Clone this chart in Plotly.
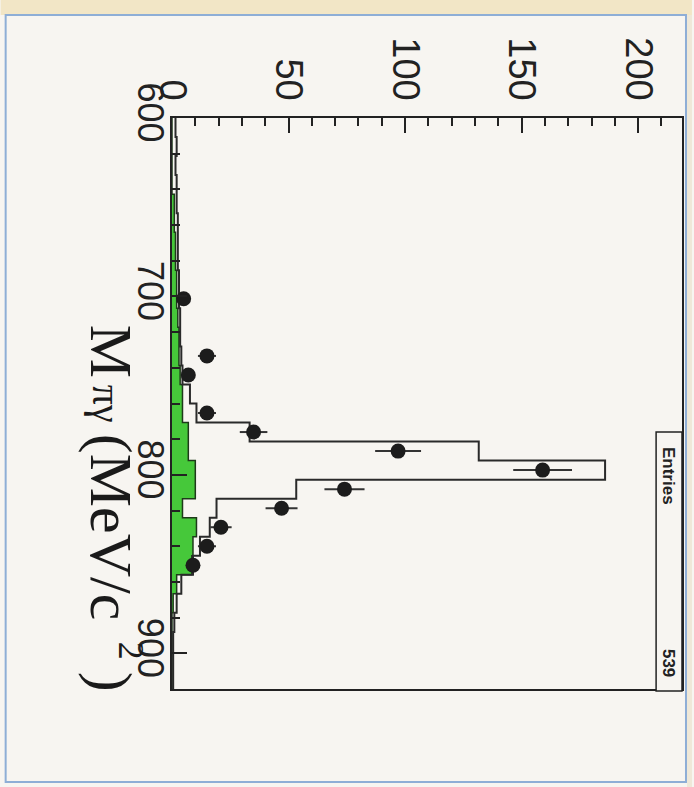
import numpy as np
import plotly.graph_objects as go

# ---- histogram binning (mass axis, MeV/c^2) ----
MASS_MIN = 600.0
MASS_MAX = 920.0
N_BINS = 30

# ---- data (counts per bin) ----
data_counts = [0, 0, 0, 0, 0, 0, 0, 0, 0, 5, 0, 0, 15, 7, 0, 15, 35, 97, 159, 74,
               47, 21, 15, 9, 0, 0, 0, 0, 0, 0]
mc_counts = [1.5, 2, 1.5, 2, 2, 2.5, 2.5, 2.5, 3, 3, 3.5, 3.5, 4, 4.5, 7.7, 10.5,
             33.3, 131.6, 185.8, 53.3, 19.1, 16.2, 12, 9, 4, 2, 1, 0.5, 0.5, 0.5]
bkg_counts = [0, 0, 0, 0, 1, 1, 1.5, 1.5, 2, 2, 2.5, 3, 3, 3.5, 4.5, 4.5,
              7, 7, 10, 10, 4.5, 10.5, 9, 8.5, 2, 0.5, 0, 0, 0, 0]

count_ticks = [0, 50, 100, 150, 200]
count_tick_labels = ["0", "50", "100", "150", "200"]
mass_ticks = [600, 700, 800, 900]
mass_tick_labels = ["600", "700", "800", "900"]

# axis title pieces: M, subscript, main, superscript, closing bracket
title_main = "M"
title_sub = "πγ"
title_unit = "(MeV/c"
title_sup = "2"
title_close = ")"
stats_label = "Entries"
stats_value = "539"

# ---- derived ----
edges = np.linspace(MASS_MIN, MASS_MAX, N_BINS + 1)
centers = 0.5 * (edges[:-1] + edges[1:])

def step_xy(counts):
    xs = list(counts) + [counts[-1]]
    ys = list(edges)
    return xs, ys

fig = go.Figure()

# background (green filled) histogram
bx, by = step_xy(bkg_counts)
fig.add_trace(go.Scatter(
    x=[0] + bx + [0], y=[edges[0]] + by + [edges[-1]],
    mode="lines", line=dict(shape="vh", color="#1e3a1a", width=1.5),
    fill="toself", fillcolor="#46c83a", hoverinfo="skip", showlegend=False))

# MC histogram outline
mx, my = step_xy(mc_counts)
fig.add_trace(go.Scatter(
    x=mx, y=my, mode="lines",
    line=dict(shape="vh", color="#2a2a2a", width=2),
    hoverinfo="skip", showlegend=False))

# data points
dc = np.array(data_counts, dtype=float)
mask = dc > 0
fig.add_trace(go.Scatter(
    x=dc[mask], y=centers[mask], mode="markers",
    marker=dict(symbol="circle", size=15, color="#1c1c1c"),
    error_x=dict(type="data", array=np.sqrt(dc[mask]), color="#333333",
                 thickness=2, width=0),
    showlegend=False))

# ---- layout geometry (pixels) ----
W, H = 694, 787
L, R, T, B = 172, 684, 118, 689

def px(x):
    return (x - L) / (R - L)

def py(y):
    return (B - y) / (B - T)

shapes = [
    dict(type="rect", xref="paper", yref="paper", x0=px(0), x1=px(W), y0=py(15), y1=py(0),
         fillcolor="#f2e6c6", line=dict(width=0), layer="below"),
    dict(type="rect", xref="paper", yref="paper", x0=px(689), x1=px(W), y0=py(H), y1=py(15),
         fillcolor="#efe8d8", line=dict(width=0), layer="below"),
    dict(type="rect", xref="paper", yref="paper", x0=px(5), x1=px(688), y0=py(782), y1=py(15),
         fillcolor="rgba(0,0,0,0)", line=dict(color="#8eaed6", width=2), layer="below"),
    dict(type="rect", xref="paper", yref="paper", x0=px(658), x1=px(684), y0=py(691), y1=py(432),
         fillcolor="#f7f5f1", line=dict(color="#222222", width=1.5), layer="above"),
]

def rot_text(text, xc, yc, size, family="Liberation Serif", color="#1a1a1a"):
    return dict(text=text, xref="paper", yref="paper", x=px(xc), y=py(yc),
                textangle=90, showarrow=False, xanchor="center", yanchor="middle",
                font=dict(family=family, size=size, color=color))

annotations = [
    rot_text(title_main, 111, 351, 60),
    rot_text(title_sub, 107, 404, 40),
    rot_text(title_unit, 111, 527, 60),
    rot_text(title_sup, 131, 651, 36),
    rot_text(title_close, 111, 682, 60),
    rot_text("<b>" + stats_label + "</b>", 671, 476, 17, "Liberation Sans", "#222222"),
    rot_text("<b>" + stats_value + "</b>", 671, 663, 17, "Liberation Sans", "#222222"),
]

fig.update_layout(
    width=W, height=H,
    margin=dict(l=L, r=W - R, t=T, b=H - B),
    paper_bgcolor="#f7f5f1", plot_bgcolor="#f7f5f1",
    showlegend=False,
    shapes=shapes, annotations=annotations,
    xaxis=dict(
        range=[0, 218.8], side="top", showgrid=False, zeroline=False,
        tickmode="array", tickvals=count_ticks, ticktext=count_tick_labels,
        tickangle=90, ticks="inside", ticklen=15, tickwidth=2, tickcolor="#222222",
        tickfont=dict(family="Liberation Sans", size=38, color="#222222"),
        ticklabelstandoff=2,
        minor=dict(dtick=10, ticks="inside", ticklen=8, tickwidth=2, tickcolor="#222222"),
        showline=True, mirror=True, linecolor="#222222", linewidth=2,
    ),
    yaxis=dict(
        range=[MASS_MAX, MASS_MIN], showgrid=False, zeroline=False,
        tickmode="array", tickvals=mass_ticks, ticktext=mass_tick_labels,
        tickangle=90, ticks="inside", ticklen=15, tickwidth=2, tickcolor="#222222",
        tickfont=dict(family="Liberation Sans", size=36, color="#222222"),
        ticklabelstandoff=-11,
        minor=dict(dtick=20, ticks="inside", ticklen=8, tickwidth=2, tickcolor="#222222"),
        showline=True, mirror=True, linecolor="#222222", linewidth=2,
    ),
)

fig.write_html("out.html", config={"displayModeBar": False},
               post_script="document.body.style.margin='0px';")
